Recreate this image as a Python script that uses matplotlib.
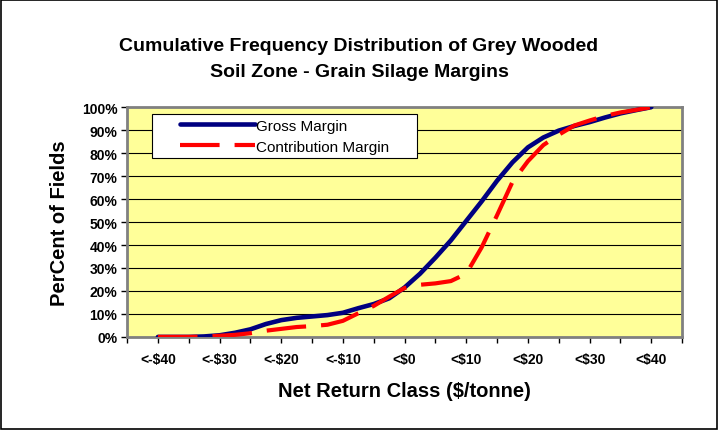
import numpy as np
import matplotlib
matplotlib.use("Agg")
import matplotlib.pyplot as plt
from matplotlib.ticker import MultipleLocator, FixedLocator, FuncFormatter
from matplotlib.patches import Rectangle
from matplotlib.legend_handler import HandlerLine2D

plt.rcParams['font.family'] = ['Liberation Sans', 'DejaVu Sans']

# net return class ($/tonne), read at every $2.50
net_return = [-40, -37.5, -35, -32.5, -30, -27.5, -25, -22.5, -20, -17.5, -15,
              -12.5, -10, -7.5, -5, -2.5, 0, 2.5, 5, 7.5, 10, 12.5, 15, 17.5,
              20, 22.5, 25, 27.5, 30, 32.5, 35, 37.5, 40]

# percent of fields
gross_margin = [0, 0, 0, 0.2, 0.7, 1.8, 3.3, 5.6, 7.3, 8.3, 8.9,
                9.5, 10.5, 12.5, 14.3, 16.8, 21.5, 27.5, 34.5, 42, 50.5, 59, 68, 76,
                82.5, 86.8, 89.8, 91.8, 93.5, 95.5, 97.3, 98.7, 100]
contribution_margin = [0, 0, 0, 0.1, 0.5, 0.9, 1.6, 2.7, 3.5, 4.3, 4.7,
                       5.3, 7, 10.3, 13.5, 17.5, 21.3, 22.7, 23.3, 24.3, 27.5, 39, 53, 67.5,
                       76.5, 83.5, 88, 92, 94.2, 96.2, 97.7, 98.8, 100]

x_labels = ['<-$40', '<-$30', '<-$20', '<-$10', '<$0', '<$10', '<$20', '<$30', '<$40']
x_label_pos = [-40, -30, -20, -10, 0, 10, 20, 30, 40]

fig = plt.figure(figsize=(7.18, 4.31), dpi=100)
fig.patches.append(Rectangle((0.002, 0.002), 0.996, 0.996, transform=fig.transFigure,
                             fill=False, edgecolor='black', linewidth=1.2))

ax = fig.add_axes([0.177, 0.216, 0.773, 0.533])
ax.set_facecolor('#FFFF99')

ax.plot(net_return, gross_margin, color='#000080', linewidth=3.3,
        solid_capstyle='round', label='Gross Margin', zorder=3)
ax.plot(net_return, contribution_margin, color='#FF0000', linewidth=3.0,
        dashes=(9.5, 3.6), label='Contribution Margin', zorder=4)

ax.set_xlim(-45, 45)
ax.set_ylim(0, 100)

ax.yaxis.set_major_locator(MultipleLocator(10))
ax.yaxis.set_major_formatter(FuncFormatter(lambda v, p: '%d%%' % v))
ax.grid(axis='y', color='black', linewidth=0.8)
ax.set_axisbelow(True)

ax.xaxis.set_major_locator(FixedLocator(x_label_pos))
ax.set_xticklabels(x_labels)
ax.xaxis.set_minor_locator(MultipleLocator(5))
ax.tick_params(axis='x', which='both', direction='out', length=4, width=1, pad=7)
ax.tick_params(axis='y', direction='out', length=4, width=1, pad=3)
for lbl in ax.get_xticklabels() + ax.get_yticklabels():
    lbl.set_fontsize(10)
    lbl.set_fontweight('bold')

for side in ['top', 'right', 'left', 'bottom']:
    ax.spines[side].set_color('#808080')
    ax.spines[side].set_linewidth(2)

ax.set_xlabel('Net Return Class ($/tonne)', fontsize=14.5, fontweight='bold', labelpad=11)
ax.set_ylabel('PerCent of Fields', fontsize=14.5, fontweight='bold', labelpad=9)

fig.text(0.5, 0.862, 'Cumulative Frequency Distribution of Grey Wooded\nSoil Zone - Grain Silage Margins',
         ha='center', va='center', fontsize=14, fontweight='bold', linespacing=1.75)

leg = ax.legend(loc='upper left', bbox_to_anchor=(0.045, 0.97, 0.477, 0.0), mode='expand',
                fontsize=11, frameon=True, fancybox=False, framealpha=1, edgecolor='black',
                handlelength=6.43, handletextpad=0.1, borderpad=0.3,
                labelspacing=0.45, borderaxespad=0,
                handler_map={plt.Line2D: HandlerLine2D(xpad=1.53)})
leg.get_frame().set_linewidth(0.8)
leg.set_zorder(5)

fig.savefig('out.png', dpi=100)
